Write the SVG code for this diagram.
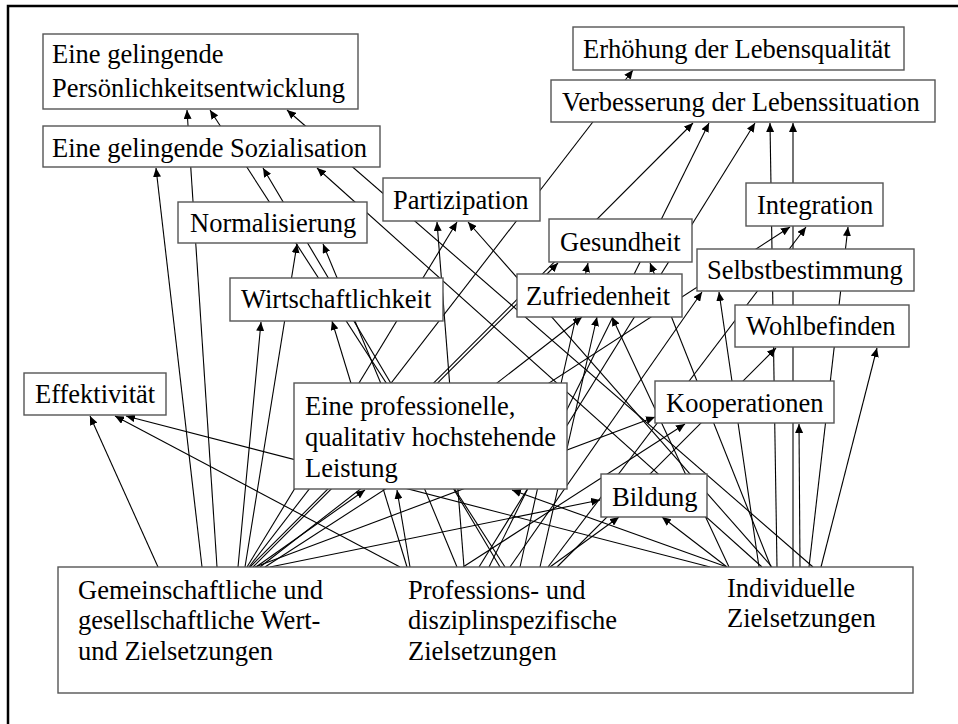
<svg xmlns="http://www.w3.org/2000/svg" width="958" height="724" viewBox="0 0 958 724">
<defs>
<marker id="ah" markerUnits="userSpaceOnUse" markerWidth="10" markerHeight="8" refX="9" refY="4" orient="auto">
<path d="M0,0 L9,4 L0,8 Z" fill="#000"/>
</marker>
<style>
.box{fill:#fff;stroke:#555;stroke-width:1.4}
.t{font-family:"Liberation Serif","Times New Roman",serif;font-size:26.5px;fill:#000}
#connectors line{stroke:#000;stroke-width:1.1;marker-end:url(#ah)}
</style>
</defs>
<rect x="0" y="0" width="958" height="724" fill="#fff"/>
<path d="M8,730 L8,6 L960,6" fill="none" stroke="#000" stroke-width="2.5"/>
<g id="connectors">
<line x1="158" y1="567" x2="90" y2="416"/>
<line x1="202" y1="567" x2="156" y2="168"/>
<line x1="217" y1="567" x2="187" y2="110"/>
<line x1="238" y1="567" x2="261" y2="322"/>
<line x1="245" y1="567" x2="297" y2="244"/>
<line x1="247" y1="567" x2="457" y2="222"/>
<line x1="249" y1="567" x2="633" y2="70"/>
<line x1="250" y1="567" x2="693" y2="123"/>
<line x1="253" y1="567" x2="558" y2="263"/>
<line x1="255" y1="567" x2="655" y2="417"/>
<line x1="270" y1="567" x2="600" y2="500"/>
<line x1="256" y1="567" x2="365" y2="490"/>
<line x1="265" y1="567" x2="790" y2="227"/>
<line x1="260" y1="567" x2="582" y2="317"/>
<line x1="505" y1="567" x2="210" y2="110"/>
<line x1="500" y1="567" x2="263" y2="168"/>
<line x1="464" y1="567" x2="437" y2="222"/>
<line x1="489" y1="567" x2="709" y2="123"/>
<line x1="479" y1="567" x2="755" y2="123"/>
<line x1="400" y1="567" x2="115" y2="416"/>
<line x1="457" y1="567" x2="323" y2="244"/>
<line x1="407" y1="567" x2="332" y2="321"/>
<line x1="550" y1="567" x2="619" y2="517"/>
<line x1="463" y1="567" x2="685" y2="424"/>
<line x1="548" y1="567" x2="806" y2="227"/>
<line x1="557" y1="567" x2="776" y2="348"/>
<line x1="410" y1="567" x2="397" y2="490"/>
<line x1="510" y1="567" x2="702" y2="292"/>
<line x1="520" y1="567" x2="588" y2="263"/>
<line x1="540" y1="567" x2="597" y2="317"/>
<line x1="762" y1="567" x2="317" y2="168"/>
<line x1="813" y1="567" x2="287" y2="110"/>
<line x1="772" y1="567" x2="468" y2="222"/>
<line x1="777" y1="567" x2="770" y2="123"/>
<line x1="793" y1="567" x2="793" y2="123"/>
<line x1="800" y1="567" x2="799" y2="424"/>
<line x1="710" y1="567" x2="126" y2="416"/>
<line x1="727" y1="567" x2="512" y2="490"/>
<line x1="727" y1="567" x2="662" y2="517"/>
<line x1="771" y1="567" x2="650" y2="263"/>
<line x1="729" y1="567" x2="612" y2="317"/>
<line x1="759" y1="567" x2="719" y2="292"/>
<line x1="809" y1="567" x2="848" y2="227"/>
<line x1="821" y1="567" x2="877" y2="348"/>
</g>
<g id="n_pers"><rect class="box" x="43" y="34" width="315" height="75"/><text class="t" x="52" y="63">Eine gelingende</text><text class="t" x="52" y="97">Persönlichkeitsentwicklung</text></g>
<g id="n_soz"><rect class="box" x="43" y="126" width="337" height="41"/><text class="t" x="52" y="157">Eine gelingende Sozialisation</text></g>
<g id="n_erh"><rect class="box" x="573" y="27" width="331" height="43"/><text class="t" x="583" y="58">Erhöhung der Lebensqualität</text></g>
<g id="n_verb"><rect class="box" x="551" y="80" width="384" height="42"/><text class="t" x="562" y="111">Verbesserung der Lebenssituation</text></g>
<g id="n_part"><rect class="box" x="383" y="178" width="157" height="43"/><text class="t" x="393" y="209">Partizipation</text></g>
<g id="n_norm"><rect class="box" x="178" y="202" width="189" height="41"/><text class="t" x="190" y="232">Normalisierung</text></g>
<g id="n_wirt"><rect class="box" x="230" y="278" width="213" height="43"/><text class="t" x="241" y="308">Wirtschaftlichkeit</text></g>
<g id="n_eff"><rect class="box" x="24" y="373" width="142" height="42"/><text class="t" x="35" y="403">Effektivität</text></g>
<g id="n_leist"><rect class="box" x="294" y="383" width="273" height="106"/><text class="t" x="305" y="415">Eine professionelle,</text><text class="t" x="305" y="446">qualitativ hochstehende</text><text class="t" x="305" y="477">Leistung</text></g>
<g id="n_ges"><rect class="box" x="549" y="219" width="143" height="43"/><text class="t" x="560" y="251">Gesundheit</text></g>
<g id="n_zuf"><rect class="box" x="517" y="274" width="165" height="43"/><text class="t" x="526" y="305">Zufriedenheit</text></g>
<g id="n_int"><rect class="box" x="746" y="183" width="137" height="43"/><text class="t" x="757" y="214">Integration</text></g>
<g id="n_selbst"><rect class="box" x="697" y="249" width="217" height="42"/><text class="t" x="707" y="279">Selbstbestimmung</text></g>
<g id="n_wohl"><rect class="box" x="735" y="305" width="174" height="42"/><text class="t" x="746" y="335">Wohlbefinden</text></g>
<g id="n_koop"><rect class="box" x="655" y="381" width="179" height="42"/><text class="t" x="666" y="412">Kooperationen</text></g>
<g id="n_bild"><rect class="box" x="601" y="474" width="106" height="43"/><text class="t" x="612" y="506">Bildung</text></g>
<g id="n_src"><rect class="box" x="58" y="567" width="855" height="126"/>
<text class="t" x="78" y="599">Gemeinschaftliche und</text><text class="t" x="78" y="629">gesellschaftliche Wert-</text><text class="t" x="78" y="660">und Zielsetzungen</text>
<text class="t" x="408" y="599">Professions- und</text><text class="t" x="408" y="629">disziplinspezifische</text><text class="t" x="408" y="660">Zielsetzungen</text>
<text class="t" x="727" y="597">Individuelle</text><text class="t" x="727" y="627">Zielsetzungen</text></g>
</svg>
